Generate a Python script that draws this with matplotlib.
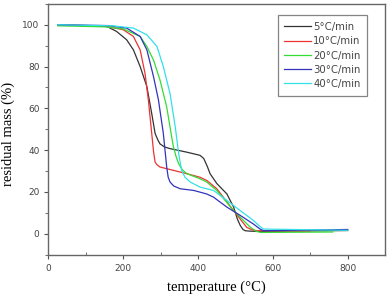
import matplotlib
matplotlib.use("Agg")
import matplotlib.pyplot as plt
from matplotlib.ticker import MultipleLocator

# TGA curves
t5 = [25, 156, 182, 209, 227, 245, 263, 276, 285, 292, 298, 310, 325, 370, 405, 415, 425, 432, 450, 477, 495, 505, 513, 520, 526, 540, 566, 800]
m5 = [100, 99.2, 96.8, 92.8, 88, 80, 70.4, 57.5, 48, 45, 43, 41.5, 40.7, 39, 37.5, 36, 32, 28.7, 24, 19, 12.7, 7, 3.8, 2, 1.4, 1.2, 1.1, 1.5]

t10 = [25, 150, 200, 227, 245, 258, 267, 276, 281, 285, 290, 298, 334, 370, 405, 423, 450, 495, 530, 545, 557, 700]
m10 = [100, 99.4, 97.6, 94.4, 88, 76.8, 64, 48, 39, 34.3, 33, 31.9, 30.3, 28.7, 27, 25.5, 21.5, 11, 3, 1.8, 1.4, 1.3]

t20 = [25, 150, 200, 245, 263, 281, 298, 316, 325, 334, 341, 348, 358, 370, 405, 423, 450, 495, 540, 555, 566, 760]
m20 = [99.5, 99, 98, 94.4, 89.6, 83, 73.6, 60.7, 51, 41.5, 37, 33.5, 30.5, 28.7, 26.3, 24.7, 20.7, 11, 3, 1.2, 0.6, 0.8]

t30 = [25, 160, 209, 245, 263, 281, 294, 307, 316, 320, 325, 335, 352, 388, 423, 441, 477, 513, 548, 565, 575, 800]
m30 = [100, 99.6, 98.4, 94.4, 88, 75, 64, 48, 32, 27, 24.7, 22.8, 21.5, 20.7, 19, 17.5, 12.7, 8.7, 4.6, 2.3, 1.4, 2]

t40 = [25, 170, 227, 263, 290, 307, 325, 339, 348, 356, 365, 379, 405, 441, 477, 513, 548, 565, 575, 800]
m40 = [100, 99.5, 98.4, 95.2, 89.6, 80, 67, 51, 38.3, 30.3, 27, 24.7, 22.3, 20.7, 15.9, 11, 6.3, 3.5, 2.2, 1.6]

labels = ["5\u00b0C/min", "10\u00b0C/min", "20\u00b0C/min", "30\u00b0C/min", "40\u00b0C/min"]
colors = ["#333333", "#ee3333", "#33dd33", "#3333bb", "#33e0e8"]
series = [(t5, m5), (t10, m10), (t20, m20), (t30, m30), (t40, m40)]

fig = plt.figure(figsize=(3.91, 2.96), dpi=100)
ax = fig.add_axes([0.124, 0.14, 0.861, 0.847])

for (t, m), lab, c in zip(series, labels, colors):
    ax.plot(t, m, color=c, lw=0.9, label=lab)

ax.set_xlim(0, 900)
ax.set_ylim(-10, 110)
ax.set_xticks([0, 200, 400, 600, 800])
ax.set_yticks([0, 20, 40, 60, 80, 100])
ax.xaxis.set_minor_locator(MultipleLocator(100))
ax.yaxis.set_minor_locator(MultipleLocator(10))
ax.tick_params(axis="x", which="major", direction="out", length=3, labelsize=6.5, colors="#555555", labelcolor="#444444")
ax.tick_params(axis="x", which="minor", direction="in", length=2.5, colors="#555555")
ax.tick_params(axis="y", which="both", direction="out", colors="#555555", labelcolor="#444444", labelsize=6.5)
ax.tick_params(axis="y", which="major", length=3)
ax.tick_params(axis="y", which="minor", length=2)
for s in ax.spines.values():
    s.set_color("#666666")
    s.set_linewidth(1.0)

ax.set_xlabel("temperature (\u00b0C)", family="Liberation Serif", fontsize=10.5, labelpad=6)
ax.set_ylabel("residual mass (%)", family="Liberation Serif", fontsize=10.5)
ax.yaxis.set_label_coords(-0.1, 0.48)

leg = ax.legend(loc="upper right", bbox_to_anchor=(0.953, 0.962), fontsize=7.3, frameon=True, fancybox=False,
                handlelength=2.6, handletextpad=0.25, labelspacing=0.42, borderpad=0.65, borderaxespad=0.2)
leg.get_frame().set_edgecolor("#666666")
leg.get_frame().set_linewidth(0.9)
for txt in leg.get_texts():
    txt.set_color("#444444")

fig.savefig("out.png", dpi=100)
